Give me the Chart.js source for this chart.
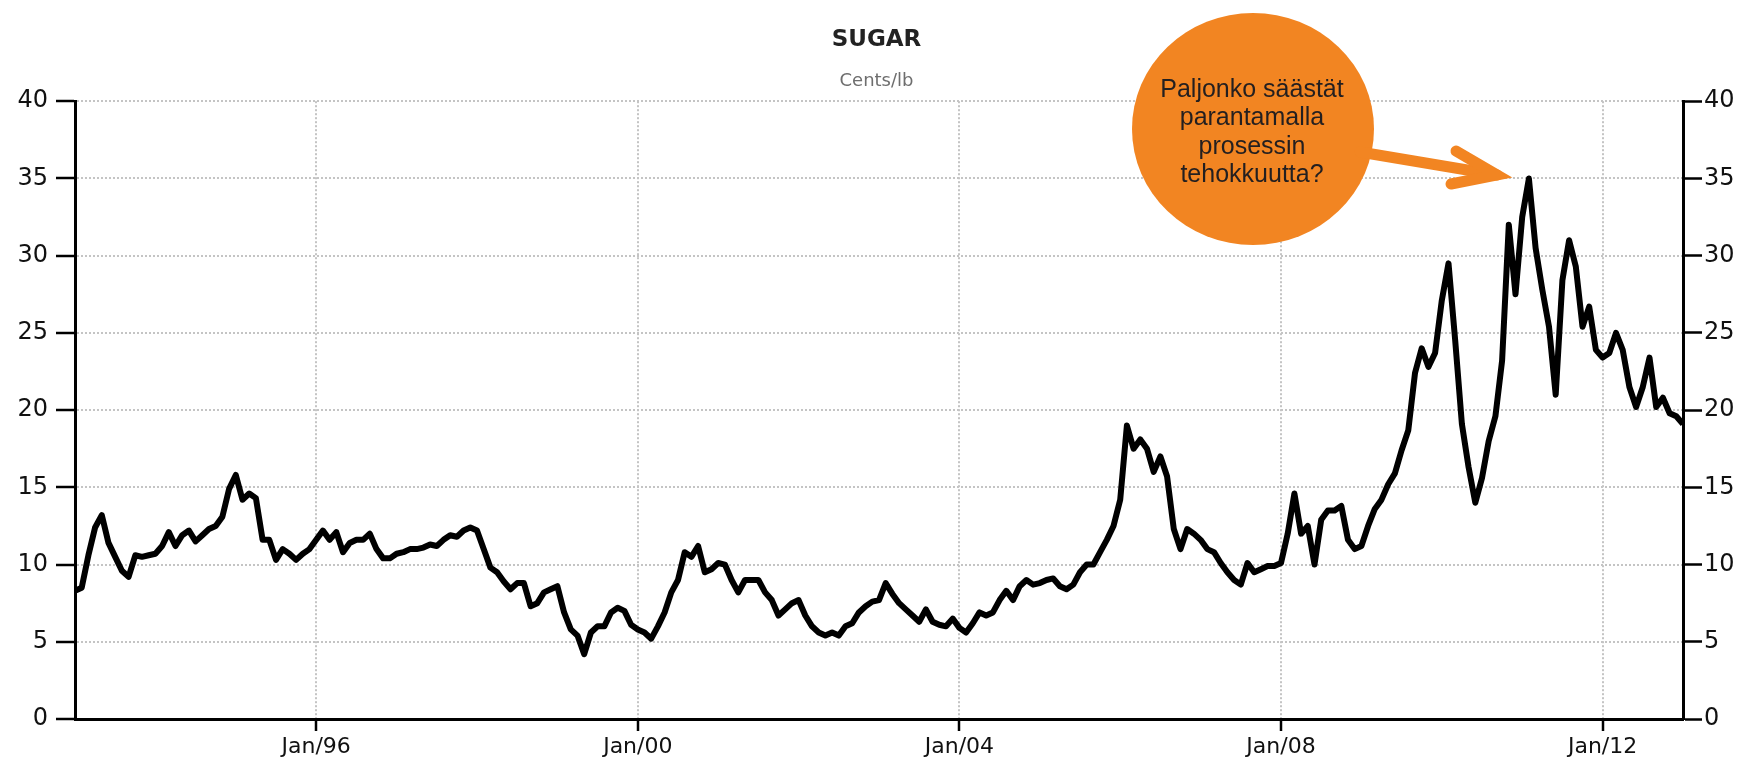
<!DOCTYPE html>
<html>
<head>
<meta charset="utf-8">
<script src="https://cdn.jsdelivr.net/npm/chart.js@4"></script>
<style>
  html, body { margin: 0; padding: 0; background: #fff; }
  #wrap { width: 1753px; height: 766px; position: relative; }
</style>
</head>
<body>
<div id="wrap"><canvas id="sugarChart"></canvas></div>
<script>
// Sugar price, cents/lb, one value per month from Jan 1993 to Jan 2013
const startYear = 1993;
const prices = [
    // 1993
    8.3, 8.5, 10.6, 12.4, 13.2, 11.4, 10.5, 9.6, 9.2, 10.6, 10.5, 10.6,
    // 1994
    10.7, 11.2, 12.1, 11.2, 11.9, 12.2, 11.5, 11.9, 12.3, 12.5, 13.1, 14.9,
    // 1995
    15.8, 14.2, 14.6, 14.3, 11.6, 11.6, 10.3, 11.0, 10.7, 10.3, 10.7, 11.0,
    // 1996
    11.6, 12.2, 11.6, 12.1, 10.8, 11.4, 11.6, 11.6, 12.0, 11.0, 10.4, 10.4,
    // 1997
    10.7, 10.8, 11.0, 11.0, 11.1, 11.3, 11.2, 11.6, 11.9, 11.8, 12.2, 12.4,
    // 1998
    12.2, 11.0, 9.8, 9.5, 8.9, 8.4, 8.8, 8.8, 7.3, 7.5, 8.2, 8.4,
    // 1999
    8.6, 6.9, 5.8, 5.4, 4.2, 5.6, 6.0, 6.0, 6.9, 7.2, 7.0, 6.1,
    // 2000
    5.8, 5.6, 5.2, 6.0, 6.9, 8.2, 9.0, 10.8, 10.5, 11.2, 9.5, 9.7,
    // 2001
    10.1, 10.0, 9.0, 8.2, 9.0, 9.0, 9.0, 8.2, 7.7, 6.7, 7.1, 7.5,
    // 2002
    7.7, 6.7, 6.0, 5.6, 5.4, 5.6, 5.4, 6.0, 6.2, 6.9, 7.3, 7.6,
    // 2003
    7.7, 8.8, 8.1, 7.5, 7.1, 6.7, 6.3, 7.1, 6.3, 6.1, 6.0, 6.5,
    // 2004
    5.9, 5.6, 6.2, 6.9, 6.7, 6.9, 7.7, 8.3, 7.7, 8.6, 9.0, 8.7,
    // 2005
    8.8, 9.0, 9.1, 8.6, 8.4, 8.7, 9.5, 10.0, 10.0, 10.8, 11.6, 12.5,
    // 2006
    14.2, 19.0, 17.5, 18.1, 17.5, 16.0, 17.0, 15.7, 12.3, 11.0, 12.3, 12.0,
    // 2007
    11.6, 11.0, 10.8, 10.1, 9.5, 9.0, 8.7, 10.1, 9.5, 9.7, 9.9, 9.9,
    // 2008
    10.1, 12.0, 14.6, 12.0, 12.5, 10.0, 12.9, 13.5, 13.5, 13.8, 11.6, 11.0,
    // 2009
    11.2, 12.5, 13.6, 14.2, 15.2, 15.9, 17.4, 18.7, 22.4, 24.0, 22.8, 23.7,
    // 2010
    27.1, 29.5, 24.5, 19.1, 16.3, 14.0, 15.6, 18.0, 19.6, 23.2, 32.0, 27.5,
    // 2011
    32.5, 35.0, 30.5, 27.8, 25.4, 21.0, 28.4, 31.0, 29.3, 25.4, 26.7, 23.9,
    // 2012
    23.4, 23.7, 25.0, 23.9, 21.5, 20.2, 21.5, 23.4, 20.2, 20.8, 19.8, 19.6,
    // 2013
    19.1
];

// x axis ticks (fractional years) and their labels
const tickYears = [1996, 2000, 2004, 2008, 2012];
const tickLabels = ['Jan/96', 'Jan/00', 'Jan/04', 'Jan/08', 'Jan/12'];

const calloutLines = ['Paljonko säästät', 'parantamalla', 'prosessin', 'tehokkuutta?'];

const axisFont = "'DejaVu Sans', sans-serif";
const ORANGE = '#f28522';
const GRID = '#c4c4c4';

const points = prices.map((v, i) => ({ x: startYear + i / 12, y: v }));

// orange speech bubble with arrow pointing at the 2011 peak
const calloutPlugin = {
    id: 'callout',
    afterDraw(chart) {
        const ctx = chart.ctx;
        ctx.save();
        ctx.fillStyle = ORANGE;
        ctx.beginPath();
        ctx.ellipse(1253, 129, 121, 116, 0, 0, Math.PI * 2);
        ctx.fill();

        ctx.strokeStyle = ORANGE;
        ctx.lineWidth = 11;
        ctx.lineCap = 'round';
        ctx.lineJoin = 'round';
        ctx.beginPath();
        ctx.moveTo(1360, 152);
        ctx.lineTo(1497, 175);
        ctx.stroke();
        ctx.lineJoin = 'miter';
        ctx.beginPath();
        ctx.moveTo(1456, 151);
        ctx.lineTo(1497, 175);
        ctx.lineTo(1451, 184);
        ctx.stroke();

        ctx.fillStyle = '#231f20';
        ctx.font = "25px 'Liberation Sans', Arial, sans-serif";
        ctx.textAlign = 'center';
        ctx.textBaseline = 'middle';
        calloutLines.forEach((line, i) => {
            ctx.fillText(line, 1252, 90 + i * 28.5);
        });
        ctx.restore();
    }
};

new Chart(document.getElementById('sugarChart'), {
    type: 'line',
    data: {
        datasets: [{
            label: 'Sugar',
            data: points,
            borderColor: '#000',
            borderWidth: 6,
            pointRadius: 0,
            tension: 0,
            borderJoinStyle: 'round'
        }]
    },
    options: {
        responsive: true,
        maintainAspectRatio: false,
        animation: false,
        devicePixelRatio: 1,
        layout: { padding: 0 },
        plugins: {
            legend: { display: false },
            tooltip: { enabled: false },
            title: {
                display: true,
                text: 'SUGAR',
                color: '#222',
                font: { family: "'DejaVu Sans', sans-serif", size: 23, weight: 'bold', lineHeight: 1.2 },
                padding: { top: 26, bottom: 0 }
            },
            subtitle: {
                display: true,
                text: 'Cents/lb',
                color: '#6e6e6e',
                font: { family: "'DejaVu Sans', sans-serif", size: 18, lineHeight: 1.2 },
                padding: { top: 17, bottom: 9 }
            }
        },
        scales: {
            x: {
                type: 'linear',
                min: 1993,
                max: 2013,
                afterBuildTicks: scale => {
                    scale.ticks = tickYears.map(v => ({ value: v }));
                },
                afterFit: scale => { scale.height = 47; },
                ticks: {
                    autoSkip: false,
                    maxRotation: 0,
                    padding: 3,
                    color: '#111',
                    font: { family: axisFont, size: 22 },
                    callback: (value, index) => tickLabels[index]
                },
                grid: {
                    color: GRID,
                    lineWidth: 2,
                    tickLength: 12,
                    tickColor: '#000',
                    tickWidth: 2.5
                },
                border: { display: true, color: '#000', width: 3, dash: [2, 2] }
            },
            y: {
                position: 'left',
                min: 0,
                max: 40,
                afterFit: scale => { scale.width = 75; },
                ticks: {
                    stepSize: 5,
                    padding: 8,
                    color: '#111',
                    font: { family: axisFont, size: 24 }
                },
                grid: {
                    color: GRID,
                    lineWidth: 2,
                    tickLength: 19,
                    tickColor: '#000',
                    tickWidth: 2.5
                },
                border: { display: true, color: '#000', width: 3, dash: [2, 2] }
            },
            y2: {
                position: 'right',
                min: 0,
                max: 40,
                afterFit: scale => { scale.width = 70; },
                ticks: {
                    stepSize: 5,
                    padding: 2,
                    color: '#111',
                    font: { family: axisFont, size: 24 }
                },
                grid: {
                    drawOnChartArea: false,
                    tickLength: 19,
                    tickColor: '#000',
                    tickWidth: 2.5
                },
                border: { display: true, color: '#000', width: 3 }
            }
        }
    },
    plugins: [calloutPlugin]
});
</script>
</body>
</html>
